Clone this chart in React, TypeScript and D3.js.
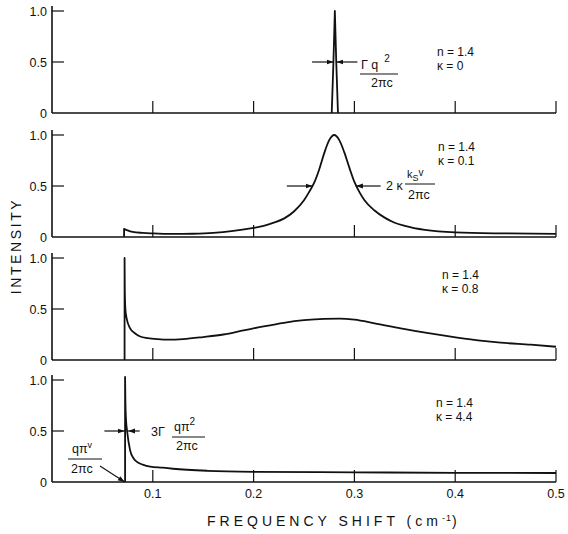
import React from 'react';
import * as d3 from 'd3';

const W = 568;
const H = 534;

const xTicks = [0.1, 0.2, 0.3, 0.4, 0.5];
const xTickLabels = ['0.1', '0.2', '0.3', '0.4', '0.5'];
const yTicks = [0.5, 1.0];
const yTickLabels = ['0', '0.5', '1.0'];
const nLabels = ['n = 1.4', 'n = 1.4', 'n = 1.4', 'n = 1.4'];
const kappaLabels = ['κ = 0', 'κ = 0.1', 'κ = 0.8', 'κ = 4.4'];

// frequency shift (cm-1) / intensity; first point is the foot of the vertical jump
const shiftK0 = [0.2775, 0.2792, 0.2806, 0.282, 0.2837];
const intK0 = [0, 0.5, 1.0, 0.5, 0];

const shiftK01 = [0.0715, 0.0715, 0.075, 0.08, 0.09, 0.1, 0.12, 0.14, 0.16, 0.18, 0.2, 0.21, 0.22, 0.23, 0.24, 0.25, 0.255, 0.26, 0.265, 0.27, 0.275, 0.28, 0.285, 0.29, 0.295, 0.3, 0.305, 0.31, 0.32, 0.33, 0.34, 0.35, 0.37, 0.4, 0.45, 0.5];
const intK01 = [0, 0.08, 0.065, 0.05, 0.04, 0.035, 0.03, 0.032, 0.04, 0.06, 0.09, 0.11, 0.14, 0.18, 0.25, 0.36, 0.44, 0.53, 0.66, 0.82, 0.95, 1.0, 0.95, 0.83, 0.68, 0.54, 0.44, 0.36, 0.26, 0.19, 0.14, 0.11, 0.07, 0.045, 0.035, 0.03];

const shiftK08 = [0.072, 0.072, 0.0722, 0.0728, 0.074, 0.0775, 0.0825, 0.0875, 0.095, 0.105, 0.115, 0.13, 0.15, 0.17, 0.19, 0.21, 0.23, 0.25, 0.27, 0.285, 0.3, 0.32, 0.346, 0.375, 0.402, 0.425, 0.445, 0.475, 0.5];
const intK08 = [0, 1.0, 0.7, 0.5, 0.41, 0.31, 0.26, 0.23, 0.215, 0.205, 0.2, 0.205, 0.225, 0.25, 0.29, 0.33, 0.365, 0.39, 0.403, 0.405, 0.395, 0.36, 0.31, 0.26, 0.22, 0.19, 0.17, 0.15, 0.13];

const shiftK44 = [0.0725, 0.0725, 0.0728, 0.0735, 0.0745, 0.0775, 0.081, 0.084, 0.09, 0.0975, 0.11, 0.12, 0.154, 0.2, 0.3, 0.4, 0.5];
const intK44 = [0, 1.03, 0.8, 0.6, 0.5, 0.31, 0.23, 0.2, 0.17, 0.15, 0.14, 0.13, 0.11, 0.1, 0.095, 0.09, 0.088];

const panelShifts = [shiftK0, shiftK01, shiftK08, shiftK44];
const panelInts = [intK0, intK01, intK08, intK44];

const baselines = [113, 237, 360, 482];
const panelH = 102;
const labelX = [437, 438, 442, 436];
const labelY = [56, 151, 279, 407];
const font = "'Liberation Sans', Arial, sans-serif";

const x = d3.scaleLinear().domain([0, 0.5]).range([52, 556]);

function tracePath(sx: number[], sy: number[], y: d3.ScaleLinear<number, number>, idx: number) {
  const pts = sx.map((s, i) => [s, sy[i]] as [number, number]);
  if (idx === 0) {
    return d3.line<[number, number]>().x(d => x(d[0])).y(d => y(d[1]))(pts) || '';
  }
  const rest = pts.slice(1);
  const smooth = d3.line<[number, number]>()
    .x(d => x(d[0]))
    .y(d => y(d[1]))
    .curve(d3.curveMonotoneX)(rest) || '';
  return `M${x(pts[0][0])},${y(pts[0][1])}L` + smooth.slice(1);
}

function Panel({ idx }: { idx: number }) {
  const base = baselines[idx];
  const y = d3.scaleLinear().domain([0, 1]).range([base, base - panelH]);
  return (
    <g>
      <line x1={x(0)} x2={x(0.5)} y1={base} y2={base} stroke="#111" strokeWidth={1.6} />
      <line x1={x(0)} x2={x(0)} y1={base} y2={y(1.05)} stroke="#111" strokeWidth={1.6} />
      {xTicks.map(t => (
        <line key={t} x1={x(t)} x2={x(t)} y1={base} y2={base - 12} stroke="#111" strokeWidth={1.2} />
      ))}
      {yTicks.map(t => (
        <line key={t} x1={x(0)} x2={x(0) + 12} y1={y(t)} y2={y(t)} stroke="#111" strokeWidth={1.2} />
      ))}
      {[0, 0.5, 1.0].map((t, i) => (
        <text key={t} x={47} y={y(t)} dy="0.36em" textAnchor="end" fontSize={12.5} fontFamily={font} fill="#111">
          {yTickLabels[i]}
        </text>
      ))}
      <path d={tracePath(panelShifts[idx], panelInts[idx], y, idx)} fill="none" stroke="#111" strokeWidth={1.8} strokeLinejoin="round" />
      <text x={labelX[idx]} y={labelY[idx]} fontSize={12} fontFamily={font} fill="#111">{nLabels[idx]}</text>
      <text x={labelX[idx]} y={labelY[idx] + 14} fontSize={12} fontFamily={font} fill="#111">{kappaLabels[idx]}</text>
    </g>
  );
}

export default function App() {
  const ys = baselines.map(b => d3.scaleLinear().domain([0, 1]).range([b, b - panelH]));
  const t = { fontFamily: font, fill: '#111', fontSize: 12.5 } as const;
  return (
    <svg width={W} height={H} style={{ position: 'absolute', left: 0, top: 0, background: '#fff' }}>
      <defs>
        <marker id="ah" viewBox="0 0 10 10" refX={10} refY={5} markerWidth={7} markerHeight={7} orient="auto" markerUnits="userSpaceOnUse">
          <path d="M0,1.5L10,5L0,8.5z" fill="#111" />
        </marker>
      </defs>
      {baselines.map((_, i) => <Panel key={i} idx={i} />)}

      {/* panel 1 width marker */}
      <line x1={x(0.258)} x2={x(0.2794)} y1={ys[0](0.5)} y2={ys[0](0.5)} stroke="#111" strokeWidth={1.2} markerEnd="url(#ah)" />
      <line x1={x(0.303)} x2={x(0.2822)} y1={ys[0](0.5)} y2={ys[0](0.5)} stroke="#111" strokeWidth={1.2} markerEnd="url(#ah)" />
      <text x={361} y={69} {...t}>Γ q<tspan dx={6} dy={-7} fontSize={10}>2</tspan></text>
      <line x1={360} x2={398} y1={74} y2={74} stroke="#111" strokeWidth={1} />
      <text x={371} y={87} {...t}>2πc</text>

      {/* panel 2 width marker */}
      <line x1={x(0.233)} x2={x(0.2585)} y1={ys[1](0.5)} y2={ys[1](0.5)} stroke="#111" strokeWidth={1.2} markerEnd="url(#ah)" />
      <line x1={x(0.326)} x2={x(0.3015)} y1={ys[1](0.5)} y2={ys[1](0.5)} stroke="#111" strokeWidth={1.2} markerEnd="url(#ah)" />
      <text x={386} y={190} {...t}>2 κ</text>
      <text x={407} y={178} {...t} fontSize={11}>k<tspan dy={3} fontSize={9}>S</tspan><tspan dy={-5} fontSize={10}>v</tspan></text>
      <line x1={405} x2={435} y1={184} y2={184} stroke="#111" strokeWidth={1} />
      <text x={408} y={199} {...t}>2πc</text>

      {/* panel 4 width marker */}
      <line x1={x(0.052)} x2={x(0.0722)} y1={ys[3](0.5)} y2={ys[3](0.5)} stroke="#111" strokeWidth={1.2} markerEnd="url(#ah)" />
      <line x1={x(0.087)} x2={x(0.0755)} y1={ys[3](0.5)} y2={ys[3](0.5)} stroke="#111" strokeWidth={1.2} markerEnd="url(#ah)" />
      <text x={151} y={436} {...t}>3Γ</text>
      <text x={174} y={431} {...t}>qπ<tspan dy={-6} fontSize={10}>2</tspan></text>
      <line x1={172} x2={205} y1={437} y2={437} stroke="#111" strokeWidth={1} />
      <text x={176} y={450} {...t}>2πc</text>

      {/* edge marker */}
      <text x={72} y={453} {...t}>qπ<tspan dy={-5} fontSize={9}>v</tspan></text>
      <line x1={68} x2={102} y1={459} y2={459} stroke="#111" strokeWidth={1} />
      <text x={71} y={473} {...t}>2πc</text>
      <line x1={100} x2={x(0.0722)} y1={466} y2={ys[3](0)} stroke="#111" strokeWidth={1.1} markerEnd="url(#ah)" />

      {xTicks.map((v, i) => (
        <text key={v} x={x(v)} y={498} textAnchor="middle" fontSize={12.5} fontFamily={font} fill="#111">{xTickLabels[i]}</text>
      ))}

      <text x={207} y={526} fontSize={14} fontFamily={font} fill="#111" letterSpacing={4}>
        FREQUENCY SHIFT (cm<tspan dy={-5} fontSize={9} letterSpacing={1}>-1</tspan><tspan dy={5}>)</tspan>
      </text>
      <text transform="translate(21,246) rotate(-90)" textAnchor="middle" fontSize={14} fontFamily={font} fill="#111" letterSpacing={2.6}>
        INTENSITY
      </text>
    </svg>
  );
}
